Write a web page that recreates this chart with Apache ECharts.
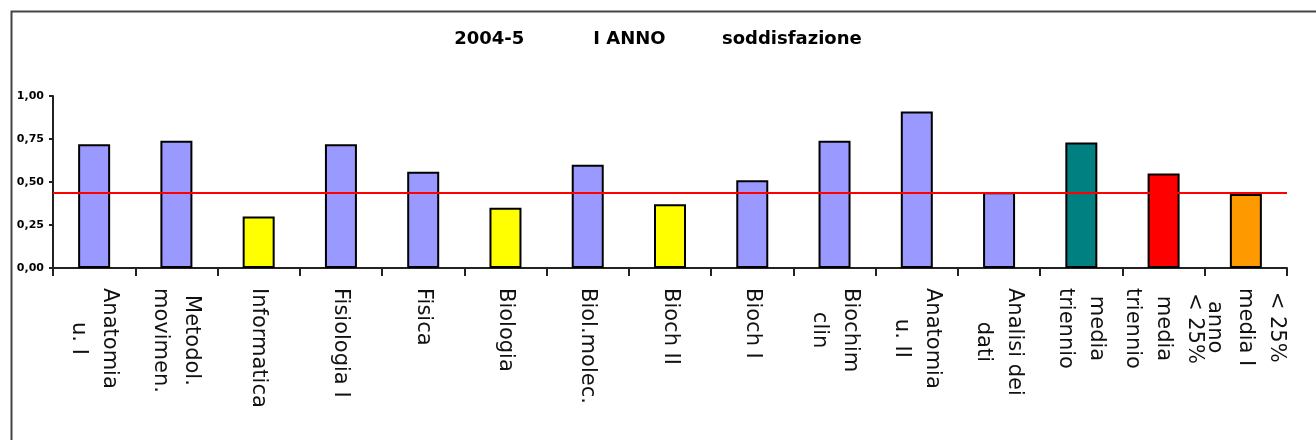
<!DOCTYPE html>
<html>
<head>
<meta charset="utf-8">
<script src="https://cdn.jsdelivr.net/npm/echarts@6/dist/echarts.min.js"></script>
<style>
html, body { margin: 0; padding: 0; background: #fff; }
#grafico { width: 1316px; height: 440px; }
</style>
</head>
<body>
<div id="grafico"></div>
<script>
// dati: soddisfazione I anno 2004-5
var materie = ['Anatomia\nu. I', 'Metodol.\nmovimen.', 'Informatica', 'Fisiologia I', 'Fisica', 'Biologia',
	'Biol.molec.', 'Bioch II', 'Bioch I', 'Biochim\nclin', 'Anatomia\nu. II', 'Analisi dei\ndati',
	'media\ntriennio', '< 25%\nmedia\ntriennio', '< 25%\nmedia I\nanno'];
var valori = [0.72, 0.74, 0.30, 0.72, 0.56, 0.35, 0.60, 0.37, 0.51, 0.74, 0.91, 0.44, 0.73, 0.55, 0.43];
var gruppi = ['corso', 'corso', 'sotto', 'corso', 'corso', 'sotto', 'corso', 'sotto', 'corso', 'corso',
	'corso', 'corso', 'triennio', 'triennio25', 'anno25'];
var soglia = 0.44;
var yTicks = [0, 0.25, 0.5, 0.75, 1];

var coloreGruppo = {
	corso: '#9999ff',
	sotto: '#ffff00',
	triennio: '#008080',
	triennio25: '#ff0000',
	anno25: '#ff9900'
};

var barre = [];
valori.forEach(function(v, i) {
	barre.push({
		value: v,
		itemStyle: {
			color: coloreGruppo[gruppi[i]]
		}
	});
});

var xx = echarts.init(document.getElementById('grafico'));
xx.setOption({
	animation: false,
	title: {
		text: '2004-5           I ANNO         soddisfazione',
		left: 'center',
		top: 25,
		textStyle: {
			fontFamily: 'DejaVu Sans',
			fontWeight: 'bold',
			fontSize: 18,
			color: '#000'
		}
	},
	graphic: [{
		type: 'rect',
		left: 9,
		top: 9,
		silent: true,
		shape: { width: 1340, height: 470 },
		style: { fill: 'none', stroke: '#444', lineWidth: 2 }
	}],
	grid: {
		left: 53,
		right: 29,
		top: 96,
		bottom: 172
	},
	xAxis: {
		type: 'category',
		data: materie,
		axisLine: {
			show: true,
			lineStyle: { color: '#222', width: 2 }
		},
		axisTick: {
			show: true,
			alignWithLabel: false,
			interval: 0,
			inside: false,
			length: 8,
			lineStyle: { color: '#222', width: 2 }
		},
		axisLabel: {
			interval: 0,
			rotate: -90,
			margin: 20,
			formatter: function(v) {
				return v.split('\n').map(function(r) {
					return '{c|' + r + '}';
				}).join('\n');
			},
			rich: {
				c: {
					align: 'center',
					fontFamily: 'DejaVu Sans',
					fontSize: 21,
					lineHeight: 31,
					color: '#111'
				}
			}
		},
		splitLine: { show: false }
	},
	yAxis: {
		type: 'value',
		min: yTicks[0],
		max: yTicks[yTicks.length - 1],
		interval: yTicks[1] - yTicks[0],
		axisLine: {
			show: true,
			lineStyle: { color: '#222', width: 2 }
		},
		axisTick: {
			show: true,
			inside: false,
			length: 4,
			lineStyle: { color: '#222', width: 2 }
		},
		axisLabel: {
			margin: 9,
			fontFamily: 'DejaVu Sans',
			fontWeight: 'bold',
			fontSize: 11,
			color: '#000',
			formatter: function(v) {
				return v.toFixed(2).replace('.', ',');
			}
		},
		splitLine: { show: false }
	},
	series: [{
		type: 'bar',
		data: barre,
		barWidth: 32,
		itemStyle: {
			borderColor: '#000',
			borderWidth: 2
		},
		markLine: {
			silent: true,
			symbol: 'none',
			label: { show: false },
			lineStyle: { color: '#ff0000', width: 2, type: 'solid' },
			data: [{ yAxis: soglia }]
		}
	}]
});
</script>
</body>
</html>
